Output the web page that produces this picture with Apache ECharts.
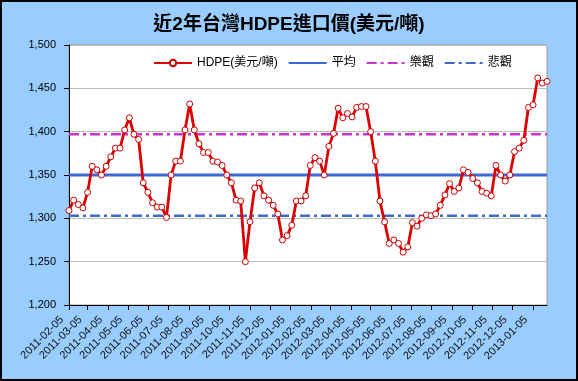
<!DOCTYPE html>
<html><head><meta charset="utf-8">
<script src="https://cdn.jsdelivr.net/npm/echarts@6/dist/echarts.min.js"></script>
<style>html,body{margin:0;padding:0;background:#99ccff}#c{width:578px;height:381px}</style>
</head><body><div id="c"></div>
<script>
const titleText = '近2年台灣HDPE進口價(美元/噸)';
const seriesNames = ['HDPE(美元/噸)', '平均', '樂觀', '悲觀'];
const startDate = '2011-02-05';
const endDate = '2013-01-26';
// weekly HDPE import price, first week = startDate
const hdpeValues = [
  1309,1321,1316,1312,1330,1360,1356,1350,1360,1371,
  1381,1381,1402,1416,1397,1391,1341,1330,1318,1313,
  1313,1301,1350,1366,1366,1402,1432,1402,1386,1376,
  1376,1366,1365,1361,1350,1341,1321,1320,1250,1296,
  1335,1341,1326,1321,1315,1305,1275,1280,1292,1320,
  1320,1326,1361,1370,1366,1350,1383,1398,1427,1416,
  1421,1417,1428,1429,1429,1400,1366,1320,1296,1271,
  1275,1271,1261,1267,1295,1291,1300,1304,1303,1305,
  1315,1327,1340,1331,1335,1356,1353,1346,1341,1331,
  1329,1326,1361,1350,1343,1350,1377,1381,1390,1428,
  1431,1462,1456,1458
];
const avgValue = 1350;
const optimisticValue = 1397;
const pessimisticValue = 1303;
const yMin = 1200, yMax = 1500, yStep = 50;

// daily category axis from start to end
function fmt(d){const m=d.getUTCMonth()+1, dd=d.getUTCDate();return d.getUTCFullYear()+'-'+(m<10?'0':'')+m+'-'+(dd<10?'0':'')+dd;}
const days = [];
{
  const s = new Date(startDate+'T00:00:00Z'), e = new Date(endDate+'T00:00:00Z');
  for (let t = s.getTime(); t <= e.getTime(); t += 86400000) days.push(fmt(new Date(t)));
}
const dayIndex = {}; days.forEach((d,i)=>dayIndex[d]=i);
const weekDates = hdpeValues.map((v,i)=>days[i*7]);
const hdpeData = hdpeValues.map((v,i)=>[dayIndex[weekDates[i]], v]);
const lastIdx = days.length-1;
const isTick = (idx, val) => val.slice(8) === '05';

const FONT = 'Arial, "Liberation Sans", "Noto Sans CJK TC", sans-serif';
const chart = echarts.init(document.getElementById('c'), null, {renderer:'canvas'});
chart.setOption({
  animation:false,
  backgroundColor:'#99ccff',
  title:{text:titleText,left:'center',top:10,textStyle:{fontFamily:FONT,fontSize:19,fontWeight:'bold',color:'#000'}},
  legend:{left:148,top:52,itemWidth:38,itemHeight:8,itemGap:10,
    data:[
      {name:seriesNames[0]},
      {name:seriesNames[1],itemStyle:{opacity:0}},
      {name:seriesNames[2],itemStyle:{opacity:0}},
      {name:seriesNames[3],itemStyle:{opacity:0}}
    ],
    textStyle:{fontFamily:FONT,fontSize:12,color:'#000'}},
  grid:{left:69,right:31,top:45,bottom:76,show:true,backgroundColor:'#fff',borderColor:'#999',borderWidth:1},
  xAxis:{type:'category',data:days,boundaryGap:false,
    axisLine:{lineStyle:{color:'#000',width:1}},
    axisTick:{interval:isTick,length:5,lineStyle:{color:'#000'}},
    axisLabel:{interval:isTick,rotate:45,margin:6,padding:[0,10,0,0],fontFamily:FONT,fontSize:11,color:'#111'},
    splitLine:{show:false}},
  yAxis:{type:'value',min:yMin,max:yMax,interval:yStep,
    axisLine:{show:true,lineStyle:{color:'#000'}},
    axisTick:{show:true,length:5,lineStyle:{color:'#000'}},
    axisLabel:{margin:13,fontFamily:FONT,fontSize:11,color:'#000',formatter:v=>v.toLocaleString('en-US')},
    splitLine:{lineStyle:{color:'#bdbdbd',width:1}}},
  graphic:[{type:'rect',shape:{x:1,y:1,width:576,height:379},style:{fill:null,stroke:'#000',lineWidth:2},z:100}],
  series:[
    {name:seriesNames[1],type:'line',data:[[0,avgValue],[lastIdx,avgValue]],symbol:'none',
      lineStyle:{color:'#3f67dc',width:3},itemStyle:{color:'#3f67dc'},z:2},
    {name:seriesNames[2],type:'line',data:[[0,optimisticValue],[lastIdx,optimisticValue]],symbol:'none',
      lineStyle:{color:'#cc33cc',width:2.5,type:[10,4,3,4]},itemStyle:{color:'#cc33cc'},z:2},
    {name:seriesNames[3],type:'line',data:[[0,pessimisticValue],[lastIdx,pessimisticValue]],symbol:'none',
      lineStyle:{color:'#3f6acc',width:2.5,type:[10,4,3,4]},itemStyle:{color:'#3f6acc'},z:2},
    {name:seriesNames[0],type:'line',data:hdpeData,symbol:'circle',symbolSize:6,showAllSymbol:true,
      lineStyle:{color:'#dd0000',width:2.8},
      itemStyle:{color:'#fff',borderColor:'#cc0000',borderWidth:1},z:5}
  ]
});
</script></body></html>
